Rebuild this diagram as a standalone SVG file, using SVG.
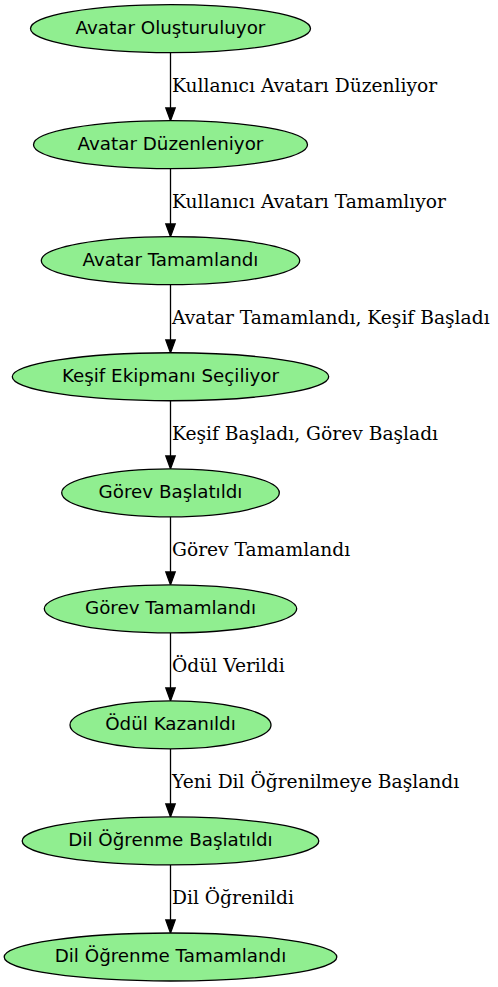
<svg xmlns="http://www.w3.org/2000/svg" width="498" height="987" viewBox="0 0 498 987">
<style>
.n ellipse{fill:#90ee90;stroke:#000;stroke-width:1.3}
.n text{font-family:"DejaVu Sans",sans-serif;font-size:18.3px;text-anchor:middle;fill:#000}
.e line{stroke:#000;stroke-width:1.3}
.e polygon{fill:#000;stroke:#000;stroke-width:1.3}
.e text{font-family:"DejaVu Serif",serif;font-size:18.67px;fill:#000}
</style>
<rect width="498" height="987" fill="#fff"/>
<g id="edges" class="e">
<line x1="170.5" y1="52.6" x2="170.5" y2="108"/><polygon points="165.8,108 175.2,108 170.5,120.65"/>
<text x="172" y="91.6">Kullanıcı Avatarı Düzenliyor</text>
<line x1="170.5" y1="168.65" x2="170.5" y2="224"/><polygon points="165.8,224 175.2,224 170.5,236.7"/>
<text x="172" y="207.7">Kullanıcı Avatarı Tamamlıyor</text>
<line x1="170.5" y1="284.7" x2="170.5" y2="340"/><polygon points="165.8,340 175.2,340 170.5,352.75"/>
<text x="172" y="323.7">Avatar Tamamlandı, Keşif Başladı</text>
<line x1="170.5" y1="400.75" x2="170.5" y2="456"/><polygon points="165.8,456 175.2,456 170.5,468.8"/>
<text x="172" y="439.8">Keşif Başladı, Görev Başladı</text>
<line x1="170.5" y1="516.8" x2="170.5" y2="572"/><polygon points="165.8,572 175.2,572 170.5,584.85"/>
<text x="172" y="555.8">Görev Tamamlandı</text>
<line x1="170.5" y1="632.85" x2="170.5" y2="688"/><polygon points="165.8,688 175.2,688 170.5,700.9"/>
<text x="172" y="671.9">Ödül Verildi</text>
<line x1="170.5" y1="748.9" x2="170.5" y2="804"/><polygon points="165.8,804 175.2,804 170.5,816.95"/>
<text x="172" y="787.9">Yeni Dil Öğrenilmeye Başlandı</text>
<line x1="170.5" y1="864.95" x2="170.5" y2="920"/><polygon points="165.8,920 175.2,920 170.5,933"/>
<text x="172" y="904">Dil Öğrenildi</text>
</g>
<g id="n1" class="n"><ellipse cx="170.5" cy="28.6" rx="140" ry="24"/><text x="170.5" y="34">Avatar Oluşturuluyor</text></g>
<g id="n2" class="n"><ellipse cx="170.5" cy="144.65" rx="137" ry="24"/><text x="170.5" y="150">Avatar Düzenleniyor</text></g>
<g id="n3" class="n"><ellipse cx="170.5" cy="260.7" rx="129.2" ry="24"/><text x="170.5" y="266">Avatar Tamamlandı</text></g>
<g id="n4" class="n"><ellipse cx="170.5" cy="376.75" rx="158.2" ry="24"/><text x="170.5" y="382">Keşif Ekipmanı Seçiliyor</text></g>
<g id="n5" class="n"><ellipse cx="170.5" cy="492.8" rx="108.8" ry="24"/><text x="170.5" y="498">Görev Başlatıldı</text></g>
<g id="n6" class="n"><ellipse cx="170.5" cy="608.85" rx="126.2" ry="24"/><text x="170.5" y="614">Görev Tamamlandı</text></g>
<g id="n7" class="n"><ellipse cx="170.5" cy="724.9" rx="100.5" ry="24"/><text x="170.5" y="730">Ödül Kazanıldı</text></g>
<g id="n8" class="n"><ellipse cx="170.5" cy="840.95" rx="148.3" ry="24"/><text x="170.5" y="846">Dil Öğrenme Başlatıldı</text></g>
<g id="n9" class="n"><ellipse cx="170.5" cy="957" rx="166.3" ry="24"/><text x="170.5" y="962">Dil Öğrenme Tamamlandı</text></g>
</svg>
